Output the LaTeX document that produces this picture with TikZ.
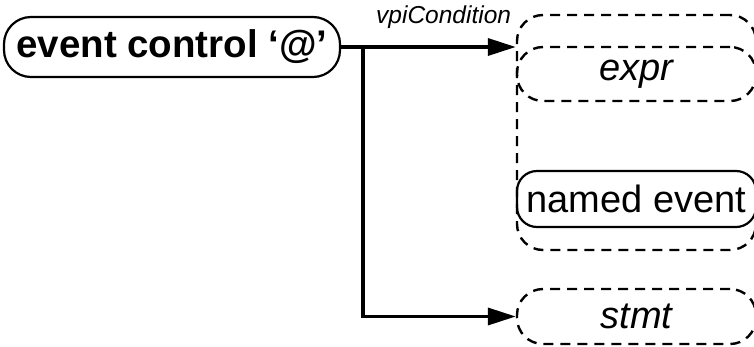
\documentclass[tikz,border=0pt]{standalone}
\usepackage{fontspec}
\setmainfont{Liberation Sans}
\usetikzlibrary{arrows.meta,calc}

\tikzset{
  objbox/.style={draw, line width=2.2pt, rounded corners=20pt, inner sep=0pt,
    minimum width=239pt, minimum height=56pt, font=\fontsize{38}{40}\selectfont},
  classbox/.style={objbox, line width=2.4pt, dash pattern=on 10pt off 7pt, rounded corners=26pt,
    font=\itshape\fontsize{38}{40}\selectfont},
  conn/.style={line width=3.5pt},
  arr/.style={conn, -{Triangle[length=28pt,width=17pt]}},
  lbl/.style={inner sep=0pt, font=\itshape\fontsize{24.5}{26}\selectfont},
}

\begin{document}
\begin{tikzpicture}[x=1pt,y=-1pt]
  \useasboundingbox (0,0) rectangle (754,346);
  % source object
  \node[objbox, minimum width=336pt, minimum height=60pt, rounded corners=27pt,
    font=\bfseries\fontsize{38.5}{40}\selectfont] (evctl) at (172,47) {event control ‘@’};
  % condition group
  \node[classbox, minimum height=235pt] (grp) at (636.5,132.5) {};
  \node[classbox, minimum height=54pt] (expr) at (636.5,74) {expr};
  \node[objbox] (named) at (636.5,199) {named event};
  \node[classbox, minimum height=55pt] (stmt) at (636.5,316.5) {stmt};
  % connectors
  \draw[arr] (evctl.east) -- (evctl.east -| grp.west)
    node[lbl, pos=1, anchor=base east, xshift=-3pt, yshift=24pt] {vpiCondition};
  \coordinate (fork) at ($(evctl.east)+(22,0)$);
  \draw[arr] (fork) |- (stmt.west);
\end{tikzpicture}
\end{document}
